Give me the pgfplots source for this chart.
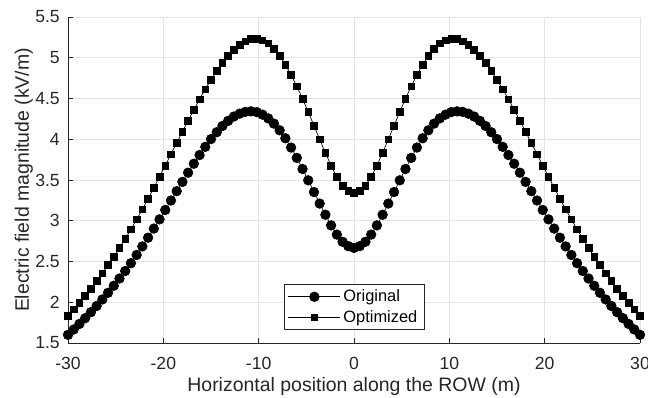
\documentclass[border=0pt]{standalone}
\usepackage{pgfplots}
\pgfplotsset{compat=1.18}
\usepackage{pgfplotstable}
\usepackage{fontspec}
\setmainfont{Liberation Sans}
\definecolor{axgray}{rgb}{0.15,0.15,0.15}
\definecolor{gridgray}{rgb}{0.89,0.89,0.89}
\pgfplotstableread{
x orig opt
-30.0 1.600 1.833
-29.4 1.666 1.912
-28.8 1.734 1.994
-28.2 1.805 2.079
-27.6 1.878 2.167
-27.0 1.954 2.259
-26.4 2.034 2.355
-25.8 2.116 2.455
-25.2 2.202 2.559
-24.6 2.291 2.667
-24.0 2.383 2.779
-23.4 2.479 2.895
-22.8 2.580 3.016
-22.2 2.685 3.141
-21.6 2.792 3.270
-21.0 2.904 3.403
-20.4 3.017 3.539
-19.8 3.132 3.677
-19.2 3.248 3.816
-18.6 3.363 3.955
-18.0 3.477 4.093
-17.4 3.590 4.229
-16.8 3.700 4.362
-16.2 3.806 4.491
-15.6 3.907 4.614
-15.0 4.002 4.730
-14.4 4.086 4.838
-13.8 4.163 4.937
-13.2 4.226 5.025
-12.6 4.279 5.100
-12.0 4.314 5.160
-11.4 4.336 5.203
-10.8 4.342 5.228
-10.2 4.333 5.234
-9.6 4.302 5.214
-9.0 4.256 5.175
-8.4 4.192 5.110
-7.8 4.110 5.022
-7.2 4.012 4.915
-6.6 3.898 4.790
-6.0 3.771 4.650
-5.4 3.635 4.497
-4.8 3.496 4.335
-4.2 3.352 4.167
-3.6 3.211 3.998
-3.0 3.074 3.833
-2.4 2.943 3.676
-1.8 2.830 3.538
-1.2 2.742 3.430
-0.6 2.688 3.365
0.0 2.667 3.342
0.6 2.688 3.365
1.2 2.742 3.430
1.8 2.830 3.538
2.4 2.943 3.676
3.0 3.074 3.833
3.6 3.211 3.998
4.2 3.352 4.167
4.8 3.496 4.335
5.4 3.635 4.497
6.0 3.771 4.650
6.6 3.898 4.790
7.2 4.012 4.915
7.8 4.110 5.022
8.4 4.192 5.110
9.0 4.256 5.175
9.6 4.302 5.214
10.2 4.333 5.234
10.8 4.342 5.228
11.4 4.336 5.203
12.0 4.314 5.160
12.6 4.279 5.100
13.2 4.226 5.025
13.8 4.163 4.937
14.4 4.086 4.838
15.0 4.002 4.730
15.6 3.907 4.614
16.2 3.806 4.491
16.8 3.700 4.362
17.4 3.590 4.229
18.0 3.477 4.093
18.6 3.363 3.955
19.2 3.248 3.816
19.8 3.132 3.677
20.4 3.017 3.539
21.0 2.904 3.403
21.6 2.792 3.270
22.2 2.685 3.141
22.8 2.580 3.016
23.4 2.479 2.895
24.0 2.383 2.779
24.6 2.291 2.667
25.2 2.202 2.559
25.8 2.116 2.455
26.4 2.034 2.355
27.0 1.954 2.259
27.6 1.878 2.167
28.2 1.805 2.079
28.8 1.734 1.994
29.4 1.666 1.912
30.0 1.600 1.833
}\datatable
\begin{document}
\begin{tikzpicture}
\useasboundingbox (-51pt,-41.25pt) rectangle (435pt,257.25pt);
\begin{axis}[
  at={(0pt,0pt)}, anchor=south west,
  scale only axis,
  width=429pt, height=244.5pt,
  xmin=-30, xmax=30, ymin=1.5, ymax=5.5,
  xtick={-30,-20,-10,0,10,20,30},
  xticklabels={-30,-20,-10,0,10,20,30},
  ytick={1.5,2,2.5,3,3.5,4,4.5,5,5.5},
  yticklabels={1.5,2,2.5,3,3.5,4,4.5,5,5.5},
  axis x line*=bottom, axis y line*=left,
  axis line style={-, draw=axgray, line width=0.5pt},
  tick align=inside,
  major tick length=4pt,
  tick style={draw=axgray, line width=0.5pt},
  grid=major,
  major grid style={draw=gridgray, line width=0.5pt},
  tick label style={font=\fontsize{13.2}{15}\selectfont, text=axgray, inner sep=0pt},
  xticklabel style={anchor=base, yshift=-20.25pt},
  yticklabel style={anchor=east, xshift=-6pt},
  xlabel={Horizontal position along the ROW (m)},
  ylabel={Electric field magnitude (kV/m)},
  label style={font=\fontsize{14.6}{17}\selectfont, text=axgray, inner sep=0pt},
  xlabel style={at={(axis description cs:0.5,-0.148)}, anchor=base},
  ylabel style={at={(axis description cs:-0.0682,0.5)}, anchor=base},
  legend style={at={(0.5,0.04)}, anchor=south, draw=axgray, line width=0.5pt,
    font=\fontsize{12.3}{14}\selectfont, inner xsep=3pt, inner ysep=2pt, row sep=1pt},
  legend cell align=left,
  legend image code/.code={%
    \draw[mark repeat=2, mark phase=2, #1] plot coordinates {(0pt,0pt) (19.5pt,0pt) (39pt,0pt)};},
]
\addplot[black, line width=0.5pt, mark=*, mark size=3.6pt, mark options={fill=black, draw=black}] table[x=x, y=orig] {\datatable};
\addlegendentry{Original}
\addplot[black, line width=0.5pt, mark=square*, mark size=2.5pt, mark options={fill=black, draw=black}] table[x=x, y=opt] {\datatable};
\addlegendentry{Optimized}
\end{axis}
\end{tikzpicture}
\end{document}
